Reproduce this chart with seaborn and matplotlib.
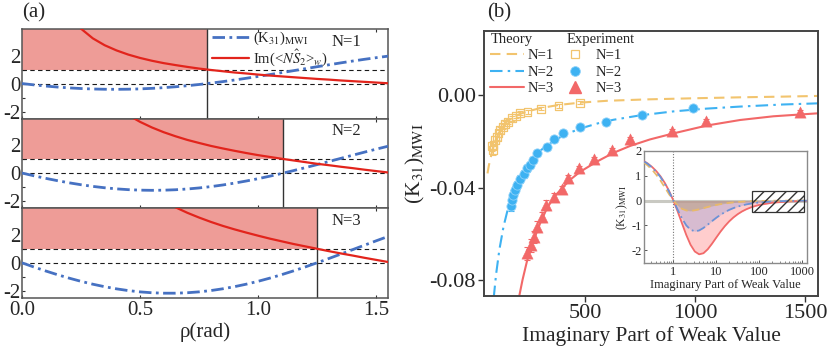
import numpy as np
import pandas as pd
import matplotlib
matplotlib.use("Agg")
import matplotlib.pyplot as plt
import seaborn as sns
from matplotlib.patches import Rectangle
from matplotlib.lines import Line2D
from matplotlib.ticker import MultipleLocator, FixedLocator, NullFormatter

sns.set_theme(style="white")
plt.rcParams['font.family'] = ['Liberation Serif', 'DejaVu Serif']
plt.rcParams['mathtext.fontset'] = 'stix'
plt.rcParams['axes.unicode_minus'] = False

# ---------------- panel (a) data ----------------
rho = [0.00, 0.05, 0.10, 0.15, 0.20, 0.25, 0.30, 0.35, 0.40, 0.45, 0.50, 0.55, 0.60, 0.65, 0.70, 0.75,
       0.80, 0.85, 0.90, 0.95, 1.00, 1.05, 1.10, 1.15, 1.20, 1.25, 1.30, 1.35, 1.40, 1.45, 1.50, 1.55]
k_n1 = [0, -0.095, -0.179, -0.251, -0.311, -0.357, -0.390, -0.409, -0.414, -0.405, -0.382, -0.345, -0.294,
        -0.231, -0.155, -0.068, 0.030, 0.137, 0.253, 0.377, 0.507, 0.642, 0.780, 0.921, 1.062, 1.203, 1.341,
        1.477, 1.607, 1.732, 1.849, 1.958]
k_n2 = [0, -0.195, -0.378, -0.546, -0.700, -0.836, -0.955, -1.053, -1.132, -1.188, -1.223, -1.236, -1.226,
        -1.195, -1.141, -1.066, -0.970, -0.855, -0.720, -0.569, -0.403, -0.222, -0.029, 0.175, 0.386, 0.604,
        0.826, 1.049, 1.272, 1.493, 1.708, 1.916]
k_n3 = [0, -0.294, -0.576, -0.842, -1.089, -1.316, -1.519, -1.697, -1.849, -1.972, -2.065, -2.127, -2.158,
        -2.158, -2.126, -2.063, -1.970, -1.846, -1.694, -1.516, -1.312, -1.085, -0.837, -0.571, -0.289, 0.006,
        0.310, 0.622, 0.937, 1.253, 1.567, 1.874]
rho_im1 = rho[4:]
im_n1 = [4.93, 3.92, 3.23, 2.74, 2.37, 2.07, 1.83, 1.63, 1.46, 1.32, 1.19, 1.07, 0.97, 0.88, 0.79, 0.72,
         0.64, 0.57, 0.51, 0.45, 0.39, 0.33, 0.28, 0.22, 0.17, 0.12, 0.07, 0.02]
rho_im2 = rho[8:]
im_n2 = [4.73, 4.14, 3.66, 3.26, 2.92, 2.63, 2.37, 2.15, 1.94, 1.76, 1.59, 1.43, 1.28, 1.15, 1.02, 0.90,
         0.78, 0.66, 0.56, 0.45, 0.35, 0.24, 0.14, 0.04]
rho_im3 = rho[11:]
im_n3 = [4.89, 4.39, 3.95, 3.56, 3.22, 2.91, 2.63, 2.38, 2.15, 1.93, 1.72, 1.53, 1.34, 1.17, 1.00, 0.83,
         0.67, 0.52, 0.36, 0.21, 0.06]
rho_cross = [0.785, 1.107, 1.249]
n_labels = ["N=1", "N=2", "N=3"]

# ---------------- panel (b) data ----------------
w_t1 = [56, 62, 68, 75, 83, 94, 106, 124, 144, 170, 205, 250, 295, 380, 477, 600, 780, 1000, 1205, 1400, 1561]
k_t1 = [-0.0339, -0.0305, -0.0281, -0.0251, -0.0224, -0.0194, -0.0166, -0.0140, -0.0115, -0.0098, -0.0081,
        -0.0068, -0.0057, -0.0043, -0.0033, -0.0025, -0.0019, -0.0014, -0.0010, -0.0007, -0.0004]
w_t2 = [84, 95, 110, 129, 150, 175, 205, 240, 285, 326, 400, 477, 560, 629, 750, 900, 1050, 1205, 1400, 1561]
k_t2 = [-0.0878, -0.0775, -0.0668, -0.0568, -0.0487, -0.0415, -0.0353, -0.0300, -0.0250, -0.0217, -0.0175,
        -0.0145, -0.0122, -0.0107, -0.0088, -0.0071, -0.0059, -0.0050, -0.0041, -0.0036]
w_t3 = [198, 215, 235, 265, 295, 326, 360, 401, 440, 477, 553, 629, 705, 795, 901, 1053, 1205, 1356, 1561]
k_t3 = [-0.0880, -0.0800, -0.0720, -0.0630, -0.0555, -0.0490, -0.0440, -0.0396, -0.0360, -0.0332, -0.0288,
        -0.0250, -0.0220, -0.0192, -0.0166, -0.0132, -0.0108, -0.0092, -0.0079]

w_e1 = [76, 80, 83, 91, 99, 106, 114, 126, 136, 151, 167, 186, 205, 238, 298, 379, 477]
k_e1 = [-0.0222, -0.0238, -0.0216, -0.0195, -0.0180, -0.0166, -0.0151, -0.0137, -0.0125, -0.0115, -0.0101,
        -0.0091, -0.0079, -0.0072, -0.0059, -0.0048, -0.0033]
e_e1 = [0.0020, 0.0020, 0.0018, 0.0016, 0.0015, 0.0014, 0.0013, 0.0012, 0.0011, 0.0010, 0.0010, 0.0009,
        0.0009, 0.0008, 0.0008, 0.0007, 0.0007]
w_e2 = [162, 167, 174, 182, 192, 205, 220, 235, 247, 262, 283, 326, 359, 401, 477, 595, 758, 992]
k_e2 = [-0.0480, -0.0454, -0.0432, -0.0411, -0.0389, -0.0365, -0.0342, -0.0317, -0.0303, -0.0281, -0.0252,
        -0.0224, -0.0192, -0.0166, -0.0137, -0.0115, -0.0088, -0.0058]
e_e2 = [0.0022, 0.0021, 0.0020, 0.0019, 0.0018, 0.0017, 0.0016, 0.0015, 0.0014, 0.0013, 0.0012, 0.0011,
        0.0010, 0.0009, 0.0008, 0.0008, 0.0007, 0.0007]
w_e3 = [235, 253, 268, 283, 303, 323, 359, 394, 424, 474, 542, 621, 705, 894, 1049, 1477]
k_e3 = [-0.0685, -0.0649, -0.0613, -0.0569, -0.0526, -0.0476, -0.0442, -0.0408, -0.0358, -0.0317, -0.0278,
        -0.0238, -0.0192, -0.0156, -0.0111, -0.0074]
e_e3 = [0.0030, 0.0028, 0.0026, 0.0024, 0.0022, 0.0020, 0.0018, 0.0016, 0.0014, 0.0012, 0.0011, 0.0010,
        0.0009, 0.0008, 0.0008, 0.0007]

# inset
w_in = [0.21, 0.25, 0.32, 0.40, 0.50, 0.63, 0.79, 1.00, 1.26, 1.58, 2.00, 2.51, 3.16, 3.98, 5.01, 6.31,
        7.94, 10.0, 12.6, 15.8, 20.0, 25.1, 31.6, 39.8, 50.1, 63.1, 79.4, 100, 200, 500, 1300]
kin_1 = [1.513, 1.412, 1.234, 1.034, 0.800, 0.530, 0.259, 0, -0.201, -0.332, -0.400, -0.414, -0.393, -0.354,
         -0.307, -0.260, -0.217, -0.178, -0.145, -0.118, -0.095, -0.076, -0.061, -0.049, -0.039, -0.031,
         -0.025, -0.020, -0.010, -0.004, -0.0015]
kin_2 = [1.563, 1.477, 1.326, 1.154, 0.941, 0.673, 0.363, 0, -0.372, -0.714, -1.000, -1.173, -1.236, -1.202,
         -1.102, -0.969, -0.828, -0.692, -0.570, -0.467, -0.376, -0.304, -0.244, -0.195, -0.156, -0.125,
         -0.099, -0.079, -0.040, -0.016, -0.006]
kin_3 = [1.572, 1.490, 1.345, 1.179, 0.973, 0.709, 0.393, 0, -0.442, -0.908, -1.385, -1.776, -2.048, -2.159,
         -2.117, -1.958, -1.734, -1.486, -1.244, -1.030, -0.836, -0.679, -0.547, -0.438, -0.351, -0.280,
         -0.224, -0.178, -0.090, -0.036, -0.014]
hatch_box = [69, 1110, -0.48, 0.40]

# ---------------- figure ----------------
FW, FH = 830, 353
fig = plt.figure(figsize=(FW / 100, FH / 100), dpi=100)


def fa(l, t, r, b):
    return [l / FW, 1 - b / FH, (r - l) / FW, (b - t) / FH]


blue_a = '#4671c2'
red_a = '#e2241c'
fill_a = '#ee9c97'

tops = [29, 118.5, 208]
bots = [118.5, 208, 298]
k_all = [k_n1, k_n2, k_n3]
rho_im = [rho_im1, rho_im2, rho_im3]
im_all = [im_n1, im_n2, im_n3]
axes_a = []
for i in range(3):
    ax = fig.add_axes(fa(22, tops[i], 388, bots[i]))
    axes_a.append(ax)
    ax.set_xlim(0, 1.55)
    ax.set_ylim(-2.5, 3.9)
    xc = rho_cross[i]
    ax.fill_between([0, xc], 1, 3.9, color=fill_a, lw=0, zorder=1)
    ax.axhline(0, color='k', ls=(0, (4, 3)), lw=0.8, zorder=2)
    ax.axhline(1, color='k', ls=(0, (4, 3)), lw=0.8, zorder=2)
    ax.axvline(xc, color='#333333', lw=1.0, zorder=2)
    sns.lineplot(x=rho, y=k_all[i], ax=ax, color=blue_a, lw=2.0, estimator=None, sort=False,
                 linestyle=(0, (4.5, 1.6, 1.0, 1.6)), zorder=3)
    sns.lineplot(x=rho_im[i], y=im_all[i], ax=ax, color=red_a, lw=1.6, estimator=None, sort=False, zorder=4)
    ax.set_xlabel('')
    ax.set_ylabel('')
    ax.yaxis.set_major_locator(FixedLocator([-2, 0, 2]))
    ax.yaxis.set_minor_locator(FixedLocator([-1, 1, 3]))
    ax.xaxis.set_major_locator(FixedLocator([0, 0.5, 1.0, 1.5]))
    ax.tick_params(axis='both', which='both', direction='in', length=2.5, width=0.8, color='#333333',
                   labelsize=15, pad=2, left=True, bottom=True, top=True)
    ax.tick_params(axis='y', pad=1)
    for s in ax.spines.values():
        s.set_color('#555555')
        s.set_linewidth(1.1)
    ax.text(0.845, 0.86, n_labels[i], transform=ax.transAxes, fontsize=12, ha='left', va='center')
    if i < 2:
        ax.tick_params(labelbottom=False)
    else:
        ax.set_xticklabels(['0.0', '0.5', '1.0', '1.5'])

leg_h = [Line2D([], [], color=blue_a, lw=2.0, ls=(0, (4.5, 1.6, 1.0, 1.6))),
         Line2D([], [], color=red_a, lw=1.6)]
axes_a[0].legend(leg_h, [r'(K$_{31}$)$_{\rm MWI}$', r'Im(<$N\hat{S}_2$>$_w$)'], loc='upper left',
                 bbox_to_anchor=(0.52, 0.99), frameon=False, fontsize=10.5, handlelength=2.5,
                 handletextpad=0.3, labelspacing=0.0, borderaxespad=0, borderpad=0)
axes_a[2].set_xlabel(r'ρ(rad)', fontsize=15, labelpad=2)
fig.text(22 / FW, 1 - 3 / FH, '(a)', fontsize=15, ha='left', va='top')

# ---------------- panel (b) ----------------
c1, c2, c3 = '#f2c46e', '#3eb2f2', '#f26868'
axb = fig.add_axes(fa(484, 30.7, 818.3, 296))
axb.set_xlim(40, 1560)
axb.set_ylim(-0.0869, 0.0278)
sns.lineplot(x=w_t1, y=k_t1, ax=axb, color=c1, lw=1.5, linestyle=(0, (5, 3)), estimator=None, sort=False)
sns.lineplot(x=w_t2, y=k_t2, ax=axb, color=c2, lw=1.5, linestyle=(0, (6, 2.5, 1.2, 2.5)), estimator=None,
             sort=False)
sns.lineplot(x=w_t3, y=k_t3, ax=axb, color=c3, lw=1.5, estimator=None, sort=False)
axb.errorbar(w_e1, k_e1, yerr=e_e1, fmt='none', ecolor=c1, elinewidth=0.8, capsize=2, capthick=0.8, zorder=3)
axb.errorbar(w_e2, k_e2, yerr=e_e2, fmt='none', ecolor=c2, elinewidth=0.8, capsize=2, capthick=0.8, zorder=3)
axb.errorbar(w_e3, k_e3, yerr=e_e3, fmt='none', ecolor=c3, elinewidth=0.8, capsize=2, capthick=0.8, zorder=3)
sns.scatterplot(x=w_e1, y=k_e1, ax=axb, marker='s', s=32, facecolor='none', edgecolor=c1, linewidth=0.9,
                zorder=4)
sns.scatterplot(x=w_e2, y=k_e2, ax=axb, marker='o', s=44, color=c2, edgecolor='#8fd2fa', linewidth=0.6,
                zorder=4)
sns.scatterplot(x=w_e3, y=k_e3, ax=axb, marker='^', s=66, color=c3, edgecolor=c3, linewidth=0.3, zorder=4)
axb.set_xticks([500, 1000, 1500])
axb.set_yticks([0.0, -0.04, -0.08])
axb.set_yticklabels(['0.00', '-0.04', '-0.08'])
axb.tick_params(axis='both', which='major', direction='out', length=4, width=1, color='#333333',
                labelsize=16, pad=2, left=True, bottom=True)
for s in axb.spines.values():
    s.set_color('#444444')
    s.set_linewidth(1.4)
axb.set_xlabel('Imaginary Part of Weak Value', fontsize=15.5, labelpad=2)
axb.set_ylabel(r'(K$_{31}$)$_{\rm MWI}$', fontsize=15.5, labelpad=2)
fig.text(487 / FW, 1 - 3 / FH, '(b)', fontsize=15, ha='left', va='top')

hb = [Line2D([], [], color=c1, lw=1.5, ls=(0, (5, 3))),
      Line2D([], [], color=c2, lw=1.5, ls=(0, (6, 2.5, 1.2, 2.5))),
      Line2D([], [], color=c3, lw=1.5),
      Line2D([], [], ls='none', marker='s', ms=5.5, mfc='none', mec=c1, mew=0.9),
      Line2D([], [], ls='none', marker='o', ms=7, mfc=c2, mec='#8fd2fa', mew=0.6),
      Line2D([], [], ls='none', marker='^', ms=8, mfc=c3, mec=c3)]
axb.legend(hb, n_labels + n_labels, ncol=2, loc='upper left', bbox_to_anchor=(0.018, 0.93), frameon=False,
           fontsize=10.5, handlelength=2.3, handletextpad=0.25, columnspacing=0.35, labelspacing=0.22,
           borderaxespad=0, borderpad=0)
axb.text(0.02, 0.968, 'Theory', transform=axb.transAxes, fontsize=10.5, ha='left', va='center')
axb.text(0.247, 0.968, 'Experiment', transform=axb.transAxes, fontsize=10.5, ha='left', va='center')

# ---------------- inset ----------------
axi = axb.inset_axes([0.4795, 0.1233, 0.4867, 0.4244])
axi.set_xscale('log')
axi.set_xlim(0.21, 1300)
axi.set_ylim(-2.52, 2.0)
axi.axhline(0, color='#c9c9c2', lw=2.2, zorder=1)
axi.axvline(1, color='#777777', lw=0.8, ls=(0, (1, 1.5)), zorder=1)
axi.fill_between(w_in[7:], kin_3[7:], 0, color='#ff9c9c', alpha=0.5, lw=0, zorder=2)
axi.fill_between(w_in[7:], kin_2[7:], 0, color='#8f9ad8', alpha=0.35, lw=0, zorder=2)
axi.fill_between(w_in[7:], kin_1[7:], 0, color='#b39a70', alpha=0.45, lw=0, zorder=2)
sns.lineplot(x=w_in, y=kin_1, ax=axi, color='#e8b96a', lw=1.3, linestyle=(0, (4, 2.5)), estimator=None,
             sort=False, zorder=4)
sns.lineplot(x=w_in, y=kin_2, ax=axi, color='#6c92d6', lw=1.3, linestyle=(0, (5, 2, 1, 2)), estimator=None,
             sort=False, zorder=4)
sns.lineplot(x=w_in, y=kin_3, ax=axi, color='#f26a6a', lw=1.3, estimator=None, sort=False, zorder=3)
axi.add_patch(Rectangle((hatch_box[0], hatch_box[2]), hatch_box[1] - hatch_box[0], hatch_box[3] - hatch_box[2],
                        fill=False, hatch='///', edgecolor='#333333', lw=0.9, zorder=5))
axi.set_xticks([1, 10, 100, 1000])
axi.set_xticklabels(['1', '10', '100', '1000'])
axi.set_yticks([-2, -1, 0, 1, 2])
axi.tick_params(axis='both', which='major', direction='in', length=2.5, width=0.7, labelsize=9, pad=2,
                color='#555555', left=True, bottom=True)
axi.tick_params(axis='x', which='minor', direction='in', length=1.5, width=0.5, color='#555555', bottom=True)
for s in axi.spines.values():
    s.set_color('#8a8a8a')
    s.set_linewidth(1.0)
axi.set_xlabel('Imaginary Part of Weak Value', fontsize=9, labelpad=1)
axi.set_ylabel(r'(K$_{31}$)$_{\rm MWI}$', fontsize=8.5, labelpad=1)

fig.savefig('out.png', dpi=100)
